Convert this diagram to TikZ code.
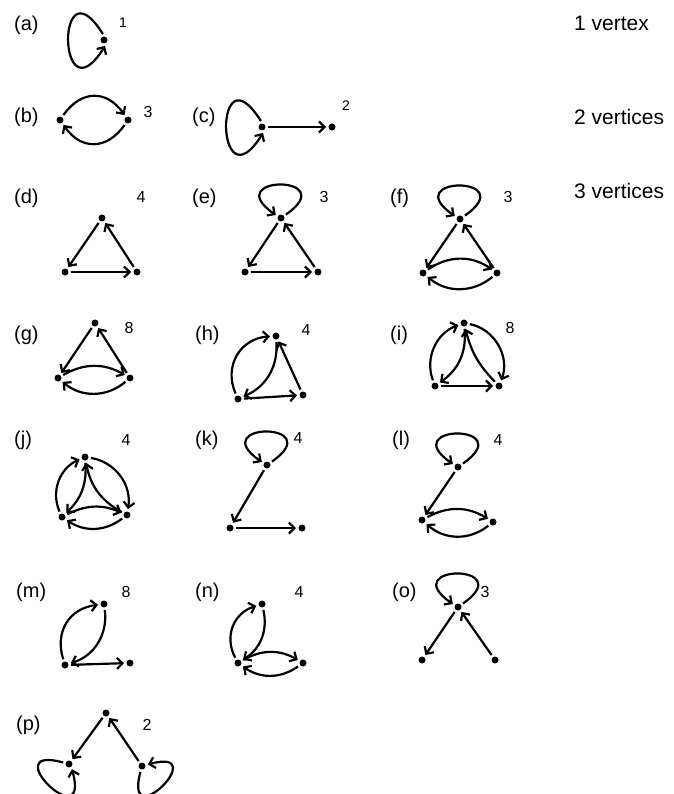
\documentclass[tikz,border=0pt]{standalone}
\usepackage{fontspec}
\setmainfont{Liberation Sans}
\usetikzlibrary{arrows.meta}
\begin{document}
\begin{tikzpicture}[x=1pt,y=1pt,
  >={Straight Barb[length=5.5pt,width=11pt]},
  v/.style={circle,fill=black,inner sep=0pt,minimum size=7pt,outer sep=2.5pt},
  e/.style={->,line width=2.2pt},
  lab/.style={font=\fontsize{20}{20}\selectfont,anchor=west,inner sep=0pt},
  txt/.style={font=\fontsize{21}{21}\selectfont,anchor=west,inner sep=0pt},
  num/.style={font=\fontsize{16}{16}\selectfont,inner sep=0pt},
  small/.style={font=\fontsize{14}{14}\selectfont,inner sep=0pt}]
\useasboundingbox (0,0) rectangle (673,-794);
% right column
\node[txt] (t1) at (574,-23) {1 vertex};
\node[txt] (t2) at (574,-117) {2 vertices};
\node[txt] (t3) at (574,-191) {3 vertices};
% (a)
\node[lab] (la) at (14,-25) {(a)};
\node[v] (a1) at (104,-40) {};
\draw[e] (a1.100) .. controls +(122:90) and +(-122:90) .. (a1.-80);
\node[small] (na) at (123,-23) {1};
% (b)
\node[lab] (lb) at (14,-117) {(b)};
\node[v] (b1) at (60,-120) {};
\node[v] (b2) at (128,-120) {};
\draw[e] (b1) to[bend left=55,looseness=1.3] (b2);
\draw[e] (b2) to[bend left=55,looseness=1.3] (b1);
\node[num] (nb) at (148,-112) {3};
% (c)
\node[lab] (lc) at (192,-117) {(c)};
\node[v] (c1) at (262,-127) {};
\node[v] (c2) at (332,-127) {};
\draw[e] (c1.100) .. controls +(122:90) and +(-122:90) .. (c1.-80);
\draw[e] (c1) -- (c2);
\node[small] (nc) at (346,-106) {2};
% (d)
\node[lab] (ld) at (14,-198) {(d)};
\node[v] (d1) at (102,-218) {};
\node[v] (d2) at (65,-272) {};
\node[v] (d3) at (137,-272) {};
\draw[e] (d1) -- (d2);
\draw[e] (d2) -- (d3);
\draw[e] (d3) -- (d1);
\node[num] (nd) at (141,-197) {4};
% (e)
\node[lab] (le) at (192,-198) {(e)};
\node[v] (e1) at (281,-218) {};
\node[v] (e2) at (245,-272) {};
\node[v] (e3) at (318,-272) {};
\draw[e] (e1.35) .. controls +(35:70) and +(145:70) .. (e1.150);
\draw[e] (e1) -- (e2);
\draw[e] (e2) -- (e3);
\draw[e] (e3) -- (e1);
\node[num] (ne) at (324,-197) {3};
% (f)
\node[lab] (lf) at (390,-198) {(f)};
\node[v] (f1) at (460,-219) {};
\node[v] (f2) at (423,-273) {};
\node[v] (f3) at (497,-273) {};
\draw[e] (f1.35) .. controls +(35:70) and +(145:70) .. (f1.150);
\draw[e] (f1) -- (f2);
\draw[e] (f3) -- (f1);
\draw[e] (f2) to[bend left=35] (f3);
\draw[e] (f3) to[bend left=40] (f2);
\node[num] (nf) at (508,-197) {3};
% (g)
\node[lab] (lg) at (14,-335) {(g)};
\node[v] (g1) at (95,-323) {};
\node[v] (g2) at (58,-378) {};
\node[v] (g3) at (130,-378) {};
\draw[e] (g1) -- (g2);
\draw[e] (g3) -- (g1);
\draw[e] (g2) to[bend left=30] (g3);
\draw[e] (g3) to[bend left=40] (g2);
\node[num] (ng) at (129,-328) {8};
% (h)
\node[lab] (lh) at (195,-335) {(h)};
\node[v] (h1) at (276,-336) {};
\node[v] (h2) at (238,-399) {};
\node[v] (h3) at (303,-395) {};
\draw[e] (h2) to[bend left=55,looseness=1.15] (h1);
\draw[e] (h1) to[bend left=35] (h2);
\draw[e] (h2) -- (h3);
\draw[e] (h3) -- (h1);
\node[num] (nh) at (306,-330) {4};
% (i)
\node[lab] (li) at (390,-335) {(i)};
\node[v] (i1) at (464,-323) {};
\node[v] (i2) at (435,-386) {};
\node[v] (i3) at (499,-386) {};
\draw[e] (i2) to[bend left=45] (i1);
\draw[e] (i1) to[bend left=30] (i2);
\draw[e] (i1) to[bend left=50] (i3);
\draw[e] (i3) to[bend left=15] (i1);
\draw[e] (i2) -- (i3);
\node[num] (ni) at (510,-328) {8};
% (j)
\node[lab] (lj) at (14,-440) {(j)};
\node[v] (j1) at (85,-457) {};
\node[v] (j2) at (62,-517) {};
\node[v] (j3) at (127,-515) {};
\draw[e] (j2) to[bend left=45] (j1);
\draw[e] (j1) to[bend left=25] (j2);
\draw[e] (j1) to[bend left=45] (j3);
\draw[e] (j3) to[bend left=25] (j1);
\draw[e] (j2) to[bend left=25] (j3);
\draw[e] (j3) to[bend left=35] (j2);
\node[num] (nj) at (126,-440) {4};
% (k)
\node[lab] (lk) at (195,-440) {(k)};
\node[v] (k1) at (267,-465) {};
\node[v] (k2) at (230,-528) {};
\node[v] (k3) at (302,-528) {};
\draw[e] (k1.35) .. controls +(35:70) and +(145:70) .. (k1.150);
\draw[e] (k1) -- (k2);
\draw[e] (k2) -- (k3);
\node[num] (nk) at (298,-438) {4};
% (l)
\node[lab] (ll) at (392,-440) {(l)};
\node[v] (l1) at (458,-467) {};
\node[v] (l2) at (422,-520) {};
\node[v] (l3) at (493,-522) {};
\draw[e] (l1.35) .. controls +(35:70) and +(145:70) .. (l1.150);
\draw[e] (l1) -- (l2);
\draw[e] (l2) to[bend left=30] (l3);
\draw[e] (l3) to[bend left=40] (l2);
\node[num] (nl) at (498,-440) {4};
% (m)
\node[lab] (lm) at (16,-592) {(m)};
\node[v] (m1) at (104,-604) {};
\node[v] (m2) at (65,-665) {};
\node[v] (m3) at (130,-663) {};
\draw[e] (m2) to[bend left=50,looseness=1.15] (m1);
\draw[e] (m1) to[bend left=40] (m2);
\draw[e] (m2) -- (m3);
\node[num] (nm) at (126,-592) {8};
% (n)
\node[lab] (ln) at (195,-592) {(n)};
\node[v] (n1) at (262,-604) {};
\node[v] (n2) at (238,-663) {};
\node[v] (n3) at (303,-663) {};
\draw[e] (n2) to[bend left=50,looseness=1.1] (n1);
\draw[e] (n1) to[bend left=35] (n2);
\draw[e] (n2) to[bend left=30] (n3);
\draw[e] (n3) to[bend left=35] (n2);
\node[num] (nn) at (299,-592) {4};
% (o)
\node[lab] (lo) at (392,-592) {(o)};
\node[v] (o1) at (458,-607) {};
\node[v] (o2) at (422,-660) {};
\node[v] (o3) at (495,-660) {};
\draw[e] (o1.35) .. controls +(35:70) and +(145:70) .. (o1.150);
\draw[e] (o1) -- (o2);
\draw[e] (o3) -- (o1);
\node[num] (no) at (485,-592) {3};
% (p)
\node[lab] (lp) at (16,-725) {(p)};
\node[v] (p1) at (106,-713) {};
\node[v] (p2) at (69,-764) {};
\node[v] (p3) at (142,-766) {};
\draw[e] (p1) -- (p2);
\draw[e] (p3) -- (p1);
\draw[e] (p2.165) .. controls +(165:72) and +(-75:72) .. (p2.-60);
\draw[e] (p3.-105) .. controls +(-105:68) and +(15:68) .. (p3.15);
\node[num] (np) at (147,-725) {2};
\end{tikzpicture}
\end{document}
